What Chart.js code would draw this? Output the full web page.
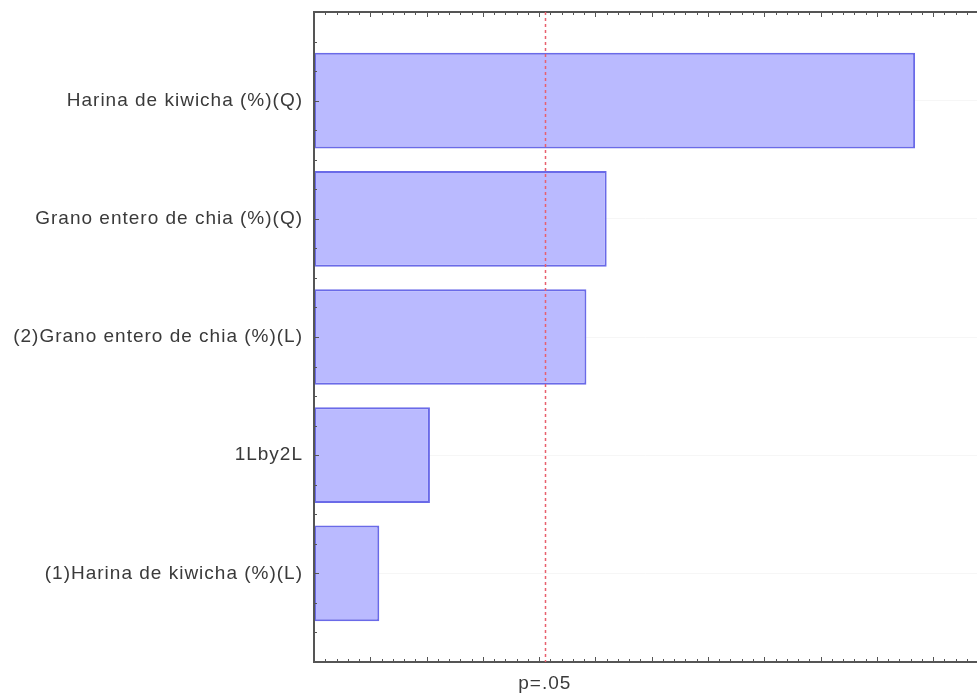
<!DOCTYPE html>
<html>
<head>
<meta charset="utf-8">
<script src="https://cdn.jsdelivr.net/npm/chart.js@4"></script>
<style>
  html, body { margin: 0; padding: 0; background: #fff; overflow: hidden; }
  #wrap { width: 977px; height: 696px; }
</style>
</head>
<body>
<div id="wrap"><canvas id="paretoChart"></canvas></div>
<script>
// effects, top to bottom
const effectLabels = [
  'Harina de kiwicha (%)(Q)',
  'Grano entero de chia (%)(Q)',
  '(2)Grano entero de chia (%)(L)',
  '1Lby2L',
  '(1)Harina de kiwicha (%)(L)'
];
const effectValues = [5.34, 2.60, 2.42, 1.03, 0.58];
const pCritical = 2.05;
const pLabel = 'p=.05';
const xMax = 5.89;

const labelFont = { family: 'Liberation Sans, Arial, sans-serif', size: 19 };

// the source image has wide lettering
const wideText = {
  id: 'wideText',
  beforeDraw(chart) { chart.ctx.letterSpacing = '1px'; }
};

// tick marks drawn inward, plus frame and p-line
const frameTicks = {
  id: 'frameTicks',
  afterDatasetsDraw(chart) {
    const { ctx, chartArea: a, scales: { x, y } } = chart;
    ctx.save();
    ctx.strokeStyle = '#555';
    ctx.lineWidth = 1;
    // x ticks, bottom and top
    for (let i = 0; i <= Math.floor(xMax * 10); i++) {
      const px = Math.round(x.getPixelForValue(i / 10)) + 0.5;
      const len = i % 5 === 0 ? 5 : 3;
      ctx.beginPath();
      ctx.moveTo(px, a.bottom); ctx.lineTo(px, a.bottom - len);
      ctx.moveTo(px, a.top); ctx.lineTo(px, a.top + len);
      ctx.stroke();
    }
    // y ticks on left
    for (let j = -3; j <= (effectLabels.length - 1) * 4 + 3; j++) {
      const py = Math.round(y.getPixelForValue(j / 4)) + 0.5;
      const len = j % 4 === 0 ? 5 : 3;
      ctx.beginPath();
      ctx.moveTo(a.left, py); ctx.lineTo(a.left + len, py);
      ctx.stroke();
    }
    // frame
    ctx.lineWidth = 2;
    ctx.beginPath();
    ctx.moveTo(a.right + 5, a.top);
    ctx.lineTo(a.left, a.top);
    ctx.lineTo(a.left, a.bottom);
    ctx.lineTo(a.right + 5, a.bottom);
    ctx.stroke();
    // p=.05 line
    const cx = Math.round(x.getPixelForValue(pCritical)) + 0.5;
    ctx.strokeStyle = '#e8606e';
    ctx.lineWidth = 1.5;
    ctx.setLineDash([3, 3]);
    ctx.beginPath();
    ctx.moveTo(cx, a.top);
    ctx.lineTo(cx, a.bottom);
    ctx.stroke();
    ctx.restore();
  }
};

new Chart(document.getElementById('paretoChart'), {
  type: 'bar',
  data: {
    datasets: [{
      data: effectValues.map((v, i) => ({ x: v, y: i })),
      backgroundColor: 'rgb(186, 186, 255)',
      borderColor: '#6a6ae8',
      borderWidth: 2,
      borderSkipped: false,
      barPercentage: 0.81,
      categoryPercentage: 1
    }]
  },
  options: {
    indexAxis: 'y',
    responsive: true,
    maintainAspectRatio: false,
    animation: false,
    layout: { padding: { top: 12, right: 0, left: 0, bottom: 0 } },
    plugins: {
      legend: { display: false },
      tooltip: { enabled: false }
    },
    scales: {
      x: {
        type: 'linear',
        min: 0,
        max: xMax,
        grid: { display: false, drawTicks: false },
        border: { display: false },
        afterBuildTicks(scale) { scale.ticks = [{ value: pCritical }]; },
        afterFit(scale) {
          scale.height = 34;
          scale.paddingLeft = 0;
          scale.paddingRight = 0;
        },
        ticks: {
          padding: 10,
          color: '#3a3a3a',
          font: labelFont,
          callback: () => pLabel
        }
      },
      y: {
        type: 'linear',
        reverse: true,
        offset: false,
        min: -0.75,
        max: effectLabels.length - 0.25,
        grid: { color: 'rgba(0,0,0,0.035)', drawTicks: false, offset: false },
        border: { display: false },
        afterBuildTicks(scale) { scale.ticks = effectLabels.map((_, i) => ({ value: i })); },
        afterFit(scale) {
          scale.width = 314;
          scale.paddingTop = 0;
          scale.paddingBottom = 0;
        },
        ticks: {
          padding: 11,
          color: '#3a3a3a',
          font: labelFont,
          callback: (v) => effectLabels[v]
        }
      }
    }
  },
  plugins: [wideText, frameTicks]
});
</script>
</body>
</html>
